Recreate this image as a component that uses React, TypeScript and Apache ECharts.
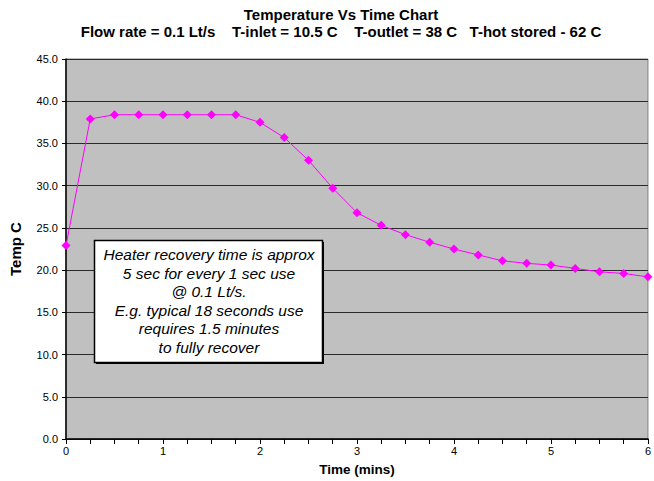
import React, { useEffect, useRef } from "react";
import * as echarts from "echarts";

const titleLines = [
  "Temperature Vs Time Chart",
  "Flow rate = 0.1 Lt/s    T-inlet = 10.5 C    T-outlet = 38 C   T-hot stored - 62 C",
];
const timeMins = [0, 0.25, 0.5, 0.75, 1, 1.25, 1.5, 1.75, 2, 2.25, 2.5, 2.75, 3, 3.25, 3.5, 3.75, 4, 4.25, 4.5, 4.75, 5, 5.25, 5.5, 5.75, 6];
const tempC = [22.9, 37.9, 38.4, 38.4, 38.4, 38.4, 38.4, 38.4, 37.5, 35.7, 33.0, 29.7, 26.8, 25.3, 24.2, 23.3, 22.5, 21.8, 21.1, 20.8, 20.6, 20.2, 19.8, 19.6, 19.2];
const noteLines = [
  "Heater recovery time is approx",
  "5 sec for every 1 sec use",
  "@ 0.1 Lt/s.",
  "E.g. typical 18 seconds use",
  "requires 1.5 minutes",
  "to fully recover",
];

const FONT = "'Liberation Sans', Arial, sans-serif";

export default function App() {
  const ref = useRef<HTMLDivElement>(null);
  useEffect(() => {
    if (!ref.current) return;
    const chart = echarts.init(ref.current, undefined, { renderer: "svg" });
    chart.setOption({
      animation: false,
      backgroundColor: "#ffffff",
      textStyle: { fontFamily: FONT },
      title: {
        text: titleLines[0] + "\n" + titleLines[1],
        left: 341,
        top: 5.5,
        padding: 0,
        textAlign: "center",
        textStyle: { fontSize: 15, fontWeight: "bold", color: "#000", lineHeight: 17, fontFamily: FONT },
      },
      grid: {
        left: 66,
        right: 2.5,
        top: 59,
        bottom: 40.5,
        show: true,
        backgroundColor: "#c0c0c0",
        borderColor: "#808080",
        borderWidth: 1,
      },
      xAxis: {
        type: "value",
        min: 0,
        max: 6,
        interval: 1,
        name: "Time (mins)",
        nameLocation: "middle",
        nameGap: 23,
        nameTextStyle: { fontSize: 13.5, fontWeight: "bold", color: "#000", fontFamily: FONT },
        axisLine: { show: true, lineStyle: { color: "#000", width: 1.5 } },
        axisTick: { show: true, length: 5, lineStyle: { color: "#000" } },
        minorTick: { show: true, splitNumber: 4, length: 5, lineStyle: { color: "#000" } },
        axisLabel: { fontSize: 11, color: "#000", margin: 6, fontFamily: FONT },
        splitLine: { show: false },
      },
      yAxis: {
        type: "value",
        min: 0,
        max: 45,
        interval: 5,
        name: "Temp C",
        nameLocation: "middle",
        nameGap: 43,
        nameTextStyle: { fontSize: 15, fontWeight: "bold", color: "#000", fontFamily: FONT },
        axisLine: { show: true, lineStyle: { color: "#000", width: 1.5 } },
        axisTick: { show: true, length: 4, lineStyle: { color: "#000" } },
        axisLabel: {
          fontSize: 11,
          color: "#000",
          margin: 8,
          fontFamily: FONT,
          formatter: (v: number) => v.toFixed(1),
        },
        splitLine: { show: true, lineStyle: { color: "#2a2a2a", width: 1.2 } },
      },
      series: [
        {
          type: "line",
          data: timeMins.map((t, i) => [t, tempC[i]]),
          lineStyle: { color: "#ff00ff", width: 1 },
          itemStyle: { color: "#ff00ff" },
          symbol: "diamond",
          symbolSize: 9,
          showSymbol: true,
          clip: false,
        },
      ],
      graphic: [
        {
          type: "rect",
          shape: { x: 96, y: 242, width: 228, height: 122 },
          style: { fill: "#000" },
          z: 9,
        },
        {
          type: "rect",
          shape: { x: 94.5, y: 240.5, width: 228, height: 122 },
          style: { fill: "#ffffff", stroke: "#000", lineWidth: 1.5 },
          z: 10,
        },
        {
          type: "text",
          x: 209,
          y: 245.5,
          z: 11,
          style: {
            text: noteLines.join("\n"),
            fontSize: 15.5,
            fontStyle: "italic",
            fontFamily: FONT,
            fill: "#000",
            align: "center",
            verticalAlign: "top",
            lineHeight: 18.5,
          },
        },
      ],
    });
    return () => chart.dispose();
  }, []);
  return <div ref={ref} style={{ width: 654, height: 481, position: "absolute", left: 0, top: 0 }} />;
}
